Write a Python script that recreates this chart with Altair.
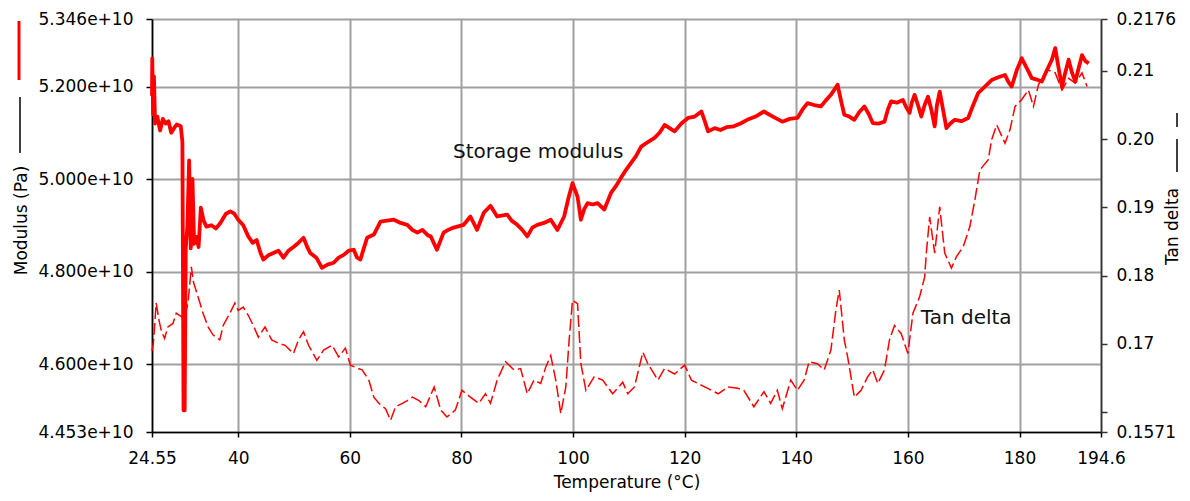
import altair as alt
import pandas as pd

# ---------------- data ----------------
mod_temp = [24.55, 24.6, 24.75, 24.9, 25.1, 25.5, 26.0, 26.5, 27.0, 27.5, 28.0, 28.5, 29.0, 29.7,
            30.0, 30.2, 30.4, 30.6, 30.9, 31.2, 31.5, 31.8, 32.1, 32.5, 32.9, 33.3, 33.8, 34.3,
            35.2, 36.0, 36.8, 37.8, 38.6, 39.3, 40.0, 40.9, 41.8, 42.6, 43.3, 44.0, 44.5, 45.4,
            46.3, 47.2, 48.1, 49.0, 49.9, 50.6, 51.7, 52.3, 52.9, 54.0, 55.0, 56.0, 57.1, 58.0,
            58.9, 59.8, 60.7, 61.3, 61.9, 62.5, 63.1, 64.3, 65.5, 66.7, 67.9, 69.1, 70.3, 71.2,
            72.1, 73.0, 74.0, 74.5, 75.6, 76.8, 77.6, 78.6, 80.4, 81.6, 82.8, 84.0, 85.2, 86.4,
            88.2, 89.0, 90.0, 90.9, 91.8, 92.7, 93.6, 94.8, 96.0, 97.2, 98.4, 99.2, 99.9, 100.4,
            100.8, 101.4, 102.0, 102.6, 103.5, 104.4, 105.6, 106.8, 107.7, 108.6, 109.5, 110.4,
            111.3, 112.2, 113.4, 114.6, 115.5, 116.4, 117.3, 118.2, 119.4, 120.6, 121.8, 123.0,
            123.6, 124.2, 125.4, 126.4, 127.5, 128.8, 130.0, 131.2, 132.7, 134.2, 135.8, 137.5,
            138.8, 140.2, 141.1, 142.0, 143.2, 144.4, 145.3, 146.2, 147.4, 148.0, 148.6, 149.5,
            150.4, 151.3, 152.2, 153.0, 153.7, 154.8, 155.8, 156.4, 157.0, 158.0, 159.1, 159.7,
            160.3, 160.7, 161.2, 161.8, 162.4, 163.0, 163.6, 164.2, 164.8, 165.2, 165.7, 166.3,
            166.9, 167.6, 168.4, 169.6, 170.8, 171.7, 172.6, 173.8, 175.0, 176.2, 177.4, 178.0,
            178.6, 179.5, 180.4, 181.3, 182.2, 183.1, 184.0, 184.9, 185.8, 186.4, 187.0, 187.6,
            188.2, 188.8, 189.4, 190.0, 190.6, 191.2, 191.8, 192.4]
mod_e10 = [5.18, 5.261, 5.14, 5.222, 5.12, 5.135, 5.105, 5.13, 5.12, 5.125, 5.10, 5.11, 5.118, 5.114,
           5.08, 4.50, 4.50, 4.85, 4.90, 5.04, 4.85, 5.00, 4.86, 4.875, 4.853, 4.938, 4.91, 4.897,
           4.90, 4.893, 4.905, 4.925, 4.93, 4.925, 4.912, 4.90, 4.876, 4.862, 4.868, 4.84, 4.826, 4.835,
           4.84, 4.845, 4.83, 4.845, 4.853, 4.86, 4.873, 4.855, 4.84, 4.83, 4.808, 4.815, 4.819, 4.83,
           4.836, 4.845, 4.847, 4.83, 4.826, 4.85, 4.873, 4.88, 4.908, 4.91, 4.912, 4.905, 4.901, 4.89,
           4.884, 4.89, 4.878, 4.876, 4.847, 4.884, 4.89, 4.895, 4.901, 4.919, 4.89, 4.927, 4.942, 4.919,
           4.923, 4.91, 4.901, 4.89, 4.876, 4.895, 4.901, 4.905, 4.912, 4.89, 4.919, 4.96, 4.991, 4.975,
           4.962, 4.912, 4.935, 4.948, 4.945, 4.948, 4.934, 4.97, 4.985, 5.003, 5.02, 5.035,
           5.05, 5.07, 5.08, 5.089, 5.10, 5.117, 5.11, 5.103, 5.12, 5.132, 5.135, 5.146,
           5.125, 5.103, 5.11, 5.106, 5.112, 5.114, 5.12, 5.128, 5.135, 5.146, 5.135, 5.124,
           5.13, 5.132, 5.15, 5.164, 5.16, 5.157, 5.17, 5.182, 5.204, 5.17, 5.139, 5.135,
           5.128, 5.145, 5.157, 5.14, 5.121, 5.12, 5.124, 5.15, 5.168, 5.165, 5.171, 5.155,
           5.143, 5.165, 5.182, 5.16, 5.135, 5.16, 5.178, 5.15, 5.114, 5.16, 5.189, 5.15,
           5.11, 5.12, 5.128, 5.125, 5.132, 5.16, 5.186, 5.20, 5.214, 5.22, 5.225, 5.21,
           5.20, 5.235, 5.261, 5.24, 5.218, 5.215, 5.211, 5.235, 5.258, 5.283, 5.24, 5.20,
           5.23, 5.258, 5.23, 5.211, 5.24, 5.268, 5.255, 5.25]

tan_temp = [24.55, 24.8, 25.3, 25.8, 26.2, 26.8, 27.4, 28.3, 28.9, 29.8, 30.3, 31.0, 31.6, 32.0,
            32.8, 33.7, 34.6, 35.5, 36.7, 37.3, 38.5, 39.4, 40.0, 40.9, 41.8, 42.7, 43.6, 44.8,
            46.0, 47.2, 48.4, 49.9, 50.8, 51.7, 52.6, 54.1, 55.3, 56.8, 58.0, 59.2, 60.1, 61.2,
            62.2, 63.4, 64.3, 65.2, 66.4, 67.3, 68.2, 69.4, 70.3, 71.2, 72.4, 73.6, 75.1, 76.3,
            77.4, 78.9, 80.1, 81.6, 83.1, 84.3, 85.2, 86.4, 87.9, 89.4, 90.6, 91.8, 93.0, 94.2,
            95.1, 96.0, 96.9, 97.8, 98.7, 99.3, 99.9, 100.8, 101.4, 102.3, 103.8, 105.3, 107.1,
            108.9, 109.8, 111.0, 112.5, 113.4, 115.2, 116.4, 118.2, 120.0, 121.2, 123.6, 126.0,
            127.8, 129.5, 130.6, 132.4, 134.2, 135.4, 136.6, 137.5, 139.0, 140.2, 141.4, 142.3,
            143.8, 145.0, 146.2, 147.1, 147.7, 148.6, 149.2, 150.4, 151.6, 152.8, 153.7, 154.6,
            155.8, 156.7, 157.6, 158.8, 160.0, 160.9, 162.1, 163.0, 163.3, 163.9, 164.8, 165.7,
            166.6, 167.8, 168.7, 169.9, 171.1, 172.0, 172.9, 174.4, 175.0, 175.9, 177.4, 178.3,
            179.2, 180.4, 181.6, 182.5, 183.4, 184.9, 186.4, 187.6, 188.8, 190.0, 191.2, 192.1]
tan_val = [0.1690, 0.1701, 0.1760, 0.1735, 0.1720, 0.1708, 0.1725, 0.1730, 0.1745, 0.1740, 0.1735,
           0.1760, 0.1813, 0.1790, 0.1769, 0.1745, 0.1725, 0.1713, 0.1706, 0.1727, 0.1745, 0.1760,
           0.1749, 0.1754, 0.1742, 0.1727, 0.1710, 0.1725, 0.1706, 0.1701, 0.1698, 0.1686, 0.1706,
           0.1718, 0.1698, 0.1676, 0.1691, 0.1698, 0.1681, 0.1694, 0.1669, 0.1665, 0.1662, 0.1647,
           0.1622, 0.1613, 0.1605, 0.1588, 0.1608, 0.1613, 0.1617, 0.1622, 0.1617, 0.1608, 0.1637,
           0.1603, 0.1593, 0.1603, 0.1632, 0.1622, 0.1613, 0.1627, 0.1613, 0.1647, 0.1674, 0.1662,
           0.1664, 0.1627, 0.1647, 0.1642, 0.1666, 0.1683, 0.1647, 0.1598, 0.1637, 0.1706, 0.1764,
           0.1759, 0.1671, 0.1632, 0.1652, 0.1647, 0.1627, 0.1644, 0.1627, 0.1637, 0.1688, 0.1671,
           0.1647, 0.1664, 0.1656, 0.1669, 0.1647, 0.1637, 0.1627, 0.1637, 0.1635, 0.1632, 0.1608,
           0.1630, 0.1613, 0.1632, 0.1605, 0.1647, 0.1632, 0.1647, 0.1674, 0.1671, 0.1662, 0.1691,
           0.1750, 0.1779, 0.1706, 0.1681, 0.1622, 0.1632, 0.1652, 0.1662, 0.1642, 0.1662, 0.1706,
           0.1727, 0.1715, 0.1686, 0.1745, 0.1769, 0.1798, 0.1833, 0.1886, 0.1833, 0.1901, 0.1833,
           0.1811, 0.1828, 0.1842, 0.1872, 0.1911, 0.1955, 0.1970, 0.1999, 0.2021, 0.1994, 0.2014,
           0.2048, 0.2058, 0.2072, 0.2048, 0.2080, 0.2102, 0.2097, 0.2072, 0.2089, 0.2082, 0.2097,
           0.2077]

x_ticks = [24.55, 40, 60, 80, 100, 120, 140, 160, 180, 194.6]
mod_ticks = [4.453e10, 4.6e10, 4.8e10, 5.0e10, 5.2e10, 5.346e10]
tan_ticks = [0.1571, 0.16, 0.17, 0.18, 0.19, 0.20, 0.21, 0.2176]

mod_label = ["Storage modulus"]
mod_label_T = [78.5]
mod_label_M = [5.045e10]
tan_label = ["Tan delta"]
tan_label_T = [162.3]
tan_label_D = [0.1729]

# ---------------- chart ----------------
FONT = "DejaVu Sans"
RED = "#ff0000"

mod_df = pd.DataFrame({"T": mod_temp, "M": [v * 1e10 for v in mod_e10]})
tan_df = pd.DataFrame({"T": tan_temp, "D": tan_val})
mod_lab_df = pd.DataFrame({"T": mod_label_T, "M": mod_label_M, "txt": mod_label})
tan_lab_df = pd.DataFrame({"T": tan_label_T, "D": tan_label_D, "txt": tan_label})

x_enc = alt.X(
    "T:Q",
    scale=alt.Scale(domain=[24.55, 194.6], nice=False, zero=False),
    axis=alt.Axis(
        values=x_ticks, labelExpr="'' + datum.value", labelFlush=False,
        title="Temperature (°C)", titleY=55, titleBaseline="alphabetic",
        grid=True, tickSize=5, labelPadding=13,
    ),
)

mod_y = alt.Y(
    "M:Q",
    scale=alt.Scale(domain=[4.453e10, 5.346e10], nice=False, zero=False),
    axis=alt.Axis(
        orient="left", values=mod_ticks, format=".3e", grid=True,
        tickSize=6, labelPadding=13,
        title="Modulus (Pa)", titleAngle=270, titleX=-126, titleY=201,
        titleAlign="center", titleBaseline="alphabetic",
    ),
)

tan_y = alt.Y(
    "D:Q",
    scale=alt.Scale(domain=[0.1571, 0.2176], nice=False, zero=False),
    axis=alt.Axis(
        orient="right", values=tan_ticks, grid=False,
        labelExpr="datum.value == 0.16 ? '' : ((datum.value == 0.1571 || datum.value == 0.2176) ? format(datum.value, '.4f') : format(datum.value, '.2f'))",
        tickSize=6, labelPadding=9, domainColor="#333333", tickColor="#333333",
        title="Tan delta", titleAngle=270, titleX=76, titleY=207,
        titleAlign="center", titleBaseline="alphabetic",
    ),
)

mod_line = alt.Chart(mod_df).mark_line(color=RED, strokeWidth=3.8, strokeJoin="round").encode(x=x_enc, y=mod_y)
mod_text = alt.Chart(mod_lab_df).mark_text(
    align="left", baseline="alphabetic", font=FONT, fontSize=20, color="#111111"
).encode(x=x_enc, y=mod_y, text="txt:N")

tan_line = alt.Chart(tan_df).mark_line(color=RED, strokeWidth=1.5, strokeDash=[12, 4]).encode(x=x_enc, y=tan_y)
tan_text = alt.Chart(tan_lab_df).mark_text(
    align="left", baseline="alphabetic", font=FONT, fontSize=20, color="#111111"
).encode(x=x_enc, y=tan_y, text="txt:N")

left = alt.layer(mod_line, mod_text)
right = alt.layer(tan_line, tan_text)

key_df = pd.DataFrame({"k": [0]})
key_red = alt.Chart(key_df).mark_rule(color=RED, strokeWidth=3).encode(
    x=alt.value(-133), y=alt.value(2), y2=alt.value(61))
key_black = alt.Chart(key_df).mark_rule(color="#000000", strokeWidth=1.5).encode(
    x=alt.value(-132), y=alt.value(78), y2=alt.value(134))
key_dash = alt.Chart(key_df).mark_rule(color="#000000", strokeWidth=1.5, strokeDash=[33, 12]).encode(
    x=alt.value(1025), y=alt.value(153), y2=alt.value(94))

chart = alt.layer(left, right, key_red, key_black, key_dash).resolve_scale(
    y="independent"
).properties(
    width=949, height=413,
    autosize=alt.AutoSizeParams(type="none"),
    padding={"left": 144, "top": 11, "right": 81, "bottom": 60},
).configure_view(stroke=None).configure_axis(
    labelFont=FONT, titleFont=FONT, labelFontSize=17, titleFontSize=17,
    titleFontWeight="normal", titleColor="#000000", labelColor="#000000",
    domainColor="#000000", tickColor="#000000", domainWidth=1.6, tickWidth=1.5,
    gridColor="#a0a0a0", gridWidth=2,
)

chart.save("out.html", embed_options={"renderer": "svg", "actions": False})
